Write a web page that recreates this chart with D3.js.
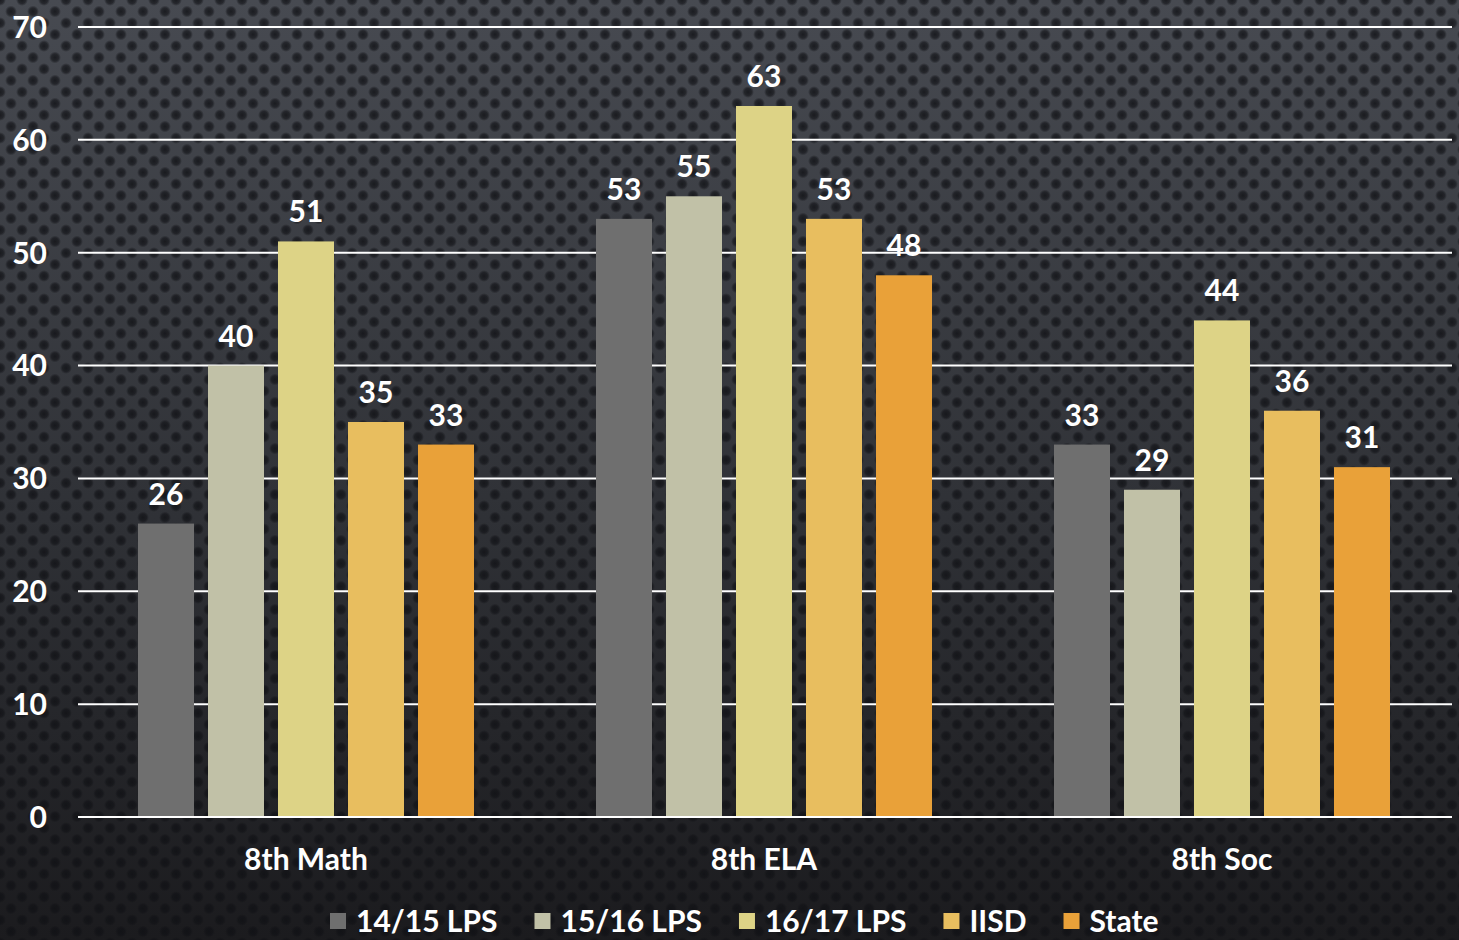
<!DOCTYPE html>
<html>
<head>
<meta charset="utf-8">
<script src="https://cdn.jsdelivr.net/npm/d3@7"></script>
<style>
  html, body { margin: 0; padding: 0; background: #1c1c20; }
  svg { display: block; }
  text { font-family: "Lato", "DejaVu Sans", sans-serif; font-weight: 700; fill: #fff; }
</style>
</head>
<body>
<svg id="chart"></svg>
<script>
// chart data
var categories = ["8th Math", "8th ELA", "8th Soc"];
var seriesNames = ["14/15 LPS", "15/16 LPS", "16/17 LPS", "IISD", "State"];
var seriesColors = ["#6f6f6f", "#c1c1a7", "#ddd386", "#e8be5f", "#e9a139"];
var values1415 = [26, 53, 33];
var values1516 = [40, 55, 29];
var values1617 = [51, 63, 44];
var valuesIISD = [35, 53, 36];
var valuesState = [33, 48, 31];
var yTicks = [0, 10, 20, 30, 40, 50, 60, 70];

var allSeries = [values1415, values1516, values1617, valuesIISD, valuesState];

var W = 1459, H = 940;
var margin = {top: 27, right: 7, bottom: 123, left: 78},
    width = W - margin.left - margin.right,
    height = H - margin.top - margin.bottom;

var svg = d3.select("#chart").attr("width", W).attr("height", H);

// background: gradient + perforated dot pattern
var defs = svg.append("defs");
var grad = defs.append("linearGradient").attr("id", "bg").attr("x1", 0).attr("y1", 0).attr("x2", 0).attr("y2", 1);
grad.append("stop").attr("offset", "0%").attr("stop-color", "#474a51");
grad.append("stop").attr("offset", "55%").attr("stop-color", "#2f3136");
grad.append("stop").attr("offset", "100%").attr("stop-color", "#1b1b1e");

var dotGrad = defs.append("radialGradient").attr("id", "dot");
dotGrad.append("stop").attr("offset", "0%").attr("stop-color", "#101115").attr("stop-opacity", 0.8);
dotGrad.append("stop").attr("offset", "60%").attr("stop-color", "#101115").attr("stop-opacity", 0.6);
dotGrad.append("stop").attr("offset", "100%").attr("stop-color", "#101115").attr("stop-opacity", 0);

var pat = defs.append("pattern").attr("id", "dots")
    .attr("patternUnits", "userSpaceOnUse")
    .attr("width", 22).attr("height", 23);
[[0, 0], [22, 0], [0, 23], [22, 23], [11, 11.5]].forEach(function(p) {
  pat.append("circle").attr("cx", p[0]).attr("cy", p[1]).attr("r", 6).attr("fill", "url(#dot)");
});

svg.append("rect").attr("width", W).attr("height", H).attr("fill", "url(#bg)");
svg.append("rect").attr("width", W).attr("height", H).attr("fill", "url(#dots)");

var g = svg.append("g").attr("transform", `translate(${margin.left}, ${margin.top})`);

// scales
var x0 = d3.scaleBand().domain(categories).range([0, width]);
var x1 = d3.scaleBand().domain(d3.range(seriesNames.length))
    .range([60, 60 + 4 * 70 + 56]).paddingInner(0.2).paddingOuter(0);
var y = d3.scaleLinear().domain([0, 70]).range([height, 0]);

// gridlines
g.append("g")
  .selectAll("line")
  .data(yTicks)
  .enter()
  .append("line")
    .attr("x1", 0)
    .attr("x2", width)
    .attr("y1", d => y(d))
    .attr("y2", d => y(d))
    .attr("stroke", "#ffffff")
    .attr("stroke-width", 2);

// y tick labels
g.append("g")
  .selectAll("text")
  .data(yTicks)
  .enter()
  .append("text")
    .attr("x", -31)
    .attr("y", d => y(d))
    .attr("dy", "0.36em")
    .attr("text-anchor", "end")
    .style("font-size", "30px")
    .text(d => d);

// bars
var groups = g.selectAll(".grp")
  .data(categories)
  .enter()
  .append("g")
    .attr("class", "grp")
    .attr("transform", d => `translate(${x0(d)}, 0)`);

groups.each(function(cat, ci) {
  var grp = d3.select(this);
  allSeries.forEach(function(vals, si) {
    grp.append("rect")
      .attr("x", x1(si))
      .attr("y", y(vals[ci]))
      .attr("width", x1.bandwidth())
      .attr("height", height - y(vals[ci]))
      .attr("fill", seriesColors[si]);
    grp.append("text")
      .attr("x", x1(si) + x1.bandwidth() / 2)
      .attr("y", y(vals[ci]) - 19)
      .attr("text-anchor", "middle")
      .style("font-size", "30px")
      .text(vals[ci]);
  });
});

// redraw zero line over bars
g.append("line")
  .attr("x1", 0).attr("x2", width)
  .attr("y1", y(0)).attr("y2", y(0))
  .attr("stroke", "#ffffff").attr("stroke-width", 2);

// category labels
g.append("g")
  .selectAll("text")
  .data(categories)
  .enter()
  .append("text")
    .attr("x", d => x0(d) + x1(2) + x1.bandwidth() / 2)
    .attr("y", height + 53)
    .attr("text-anchor", "middle")
    .style("font-size", "30px")
    .text(d => d);

// legend
var legend = svg.append("g").attr("transform", "translate(0, 921)");
var lx = 330;
seriesNames.forEach(function(name, i) {
  legend.append("rect")
    .attr("x", lx).attr("y", -8)
    .attr("width", 16).attr("height", 16)
    .attr("fill", seriesColors[i]);
  var t = legend.append("text")
    .attr("x", lx + 26)
    .attr("dy", "0.36em")
    .style("font-size", "30px")
    .text(name);
  var w = t.node().getComputedTextLength();
  lx = lx + 26 + w + 37;
});
</script>
</body>
</html>
